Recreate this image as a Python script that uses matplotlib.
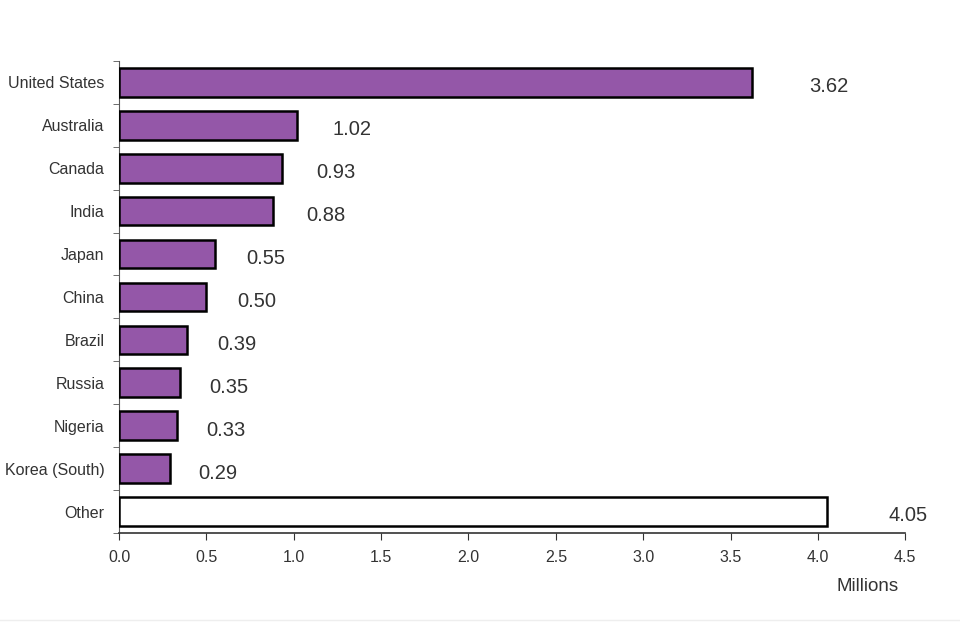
import matplotlib
matplotlib.use("Agg")
import matplotlib.pyplot as plt
import numpy as np

plt.rcParams['font.family'] = ['Liberation Sans', 'DejaVu Sans']

countries = ["United States", "Australia", "Canada", "India", "Japan", "China",
             "Brazil", "Russia", "Nigeria", "Korea (South)", "Other"]
values = [3.62, 1.02, 0.93, 0.88, 0.55, 0.50, 0.39, 0.35, 0.33, 0.29, 4.05]
value_labels = ["3.62", "1.02", "0.93", "0.88", "0.55", "0.50", "0.39", "0.35", "0.33", "0.29", "4.05"]
xticks = [0.0, 0.5, 1.0, 1.5, 2.0, 2.5, 3.0, 3.5, 4.0, 4.5]

fig = plt.figure(figsize=(9.6, 6.4), dpi=100)
ax = fig.add_axes([0.124, 0.167, 0.819, 0.738])

n = len(countries)
y = np.arange(n)
colors = ["#9457A8"] * (n - 1) + ["white"]
ax.barh(y, values, height=0.67, color=colors, edgecolor="black", linewidth=1.8, zorder=3)

ax.set_ylim(n - 0.5, -0.5)
ax.set_xlim(0, 4.5)
ax.set_yticks(y)
ax.set_yticklabels(countries, fontsize=11.5, color="#333333")
ax.tick_params(axis='y', which='major', length=0, pad=10.5)
ax.set_yticks(np.arange(-0.5, n, 1.0), minor=True)
ax.tick_params(axis='y', which='minor', length=4, direction='out', color="#555555")

ax.set_xticks(xticks)
ax.set_xticklabels([f"{t:.1f}" for t in xticks], fontsize=11.5, color="#333333")
ax.tick_params(axis='x', length=5, direction='out', color="#333333", pad=7)

for s in ["top", "right"]:
    ax.spines[s].set_visible(False)
ax.spines["left"].set_color("#555555")
ax.spines["bottom"].set_color("#333333")
ax.spines["bottom"].set_linewidth(1.2)

for yi, v, lab in zip(y, values, value_labels):
    x = v + 0.15 + 0.05 * v
    ax.text(x, yi + 0.1, lab, fontsize=14.5, color="#333333", va="center", ha="left")

fig.text(0.904, 0.084, "Millions", fontsize=13.5, color="#333333", ha="center", va="center")
fig.add_artist(plt.Line2D([0, 1], [0.031, 0.031], color="#eeeeee", linewidth=1))

fig.savefig("out.png", dpi=100, facecolor="white")
